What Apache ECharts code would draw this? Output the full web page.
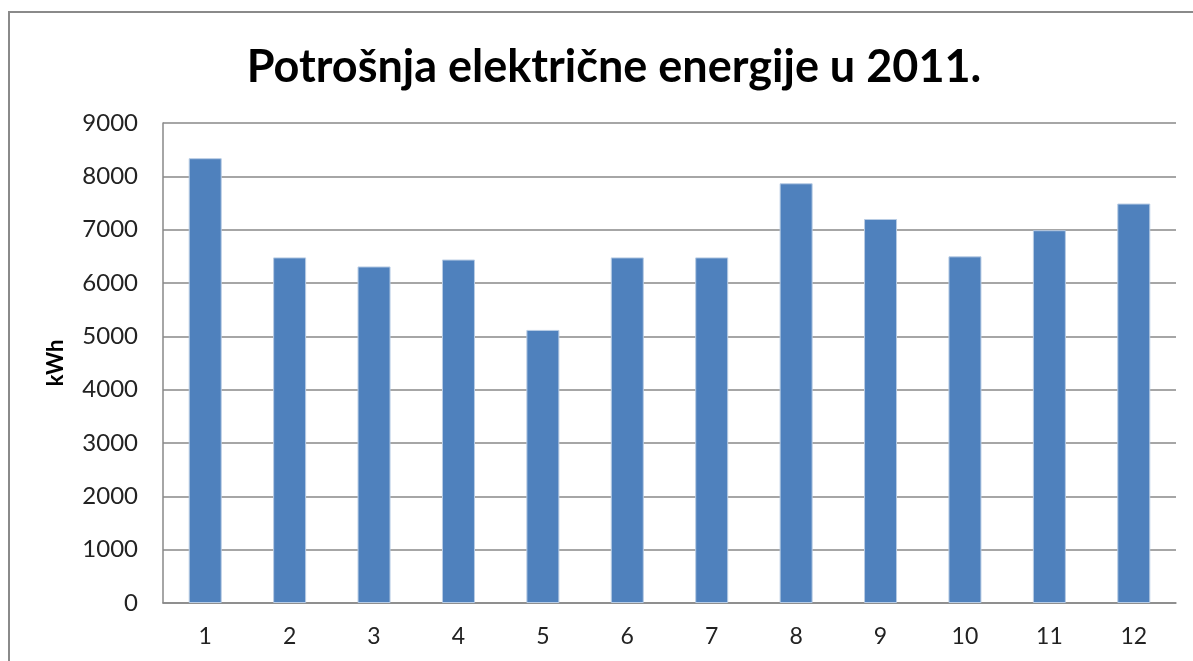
<!DOCTYPE html>
<html>
<head>
<meta charset="utf-8">
<script src="https://cdn.jsdelivr.net/npm/echarts@6/dist/echarts.min.js"></script>
<style>
html, body { margin: 0; padding: 0; background: #fff; }
#chart { width: 1193px; height: 661px; }
</style>
</head>
<body>
<div id="chart"></div>
<script>
var months = ['1', '2', '3', '4', '5', '6', '7', '8', '9', '10', '11', '12'];
var kwh = [8340, 6480, 6310, 6440, 5120, 6480, 6480, 7870, 7200, 6500, 6990, 7490];
var yTicks = [0, 1000, 2000, 3000, 4000, 5000, 6000, 7000, 8000, 9000];

var myChart = echarts.init(document.getElementById('chart'));
var option = {
    backgroundColor: '#fff',
    animation: false,
    title: {
        text: 'Potrošnja električne energije u 2011.',
        left: 609,
        textAlign: 'center',
        top: 40,
        textStyle: {
            fontFamily: 'Lato',
            fontWeight: 'bold',
            fontSize: 45,
            color: '#000'
        }
    },
    // okvir grafikona
    graphic: [
        {
            type: 'rect',
            shape: { x: 9, y: 12, width: 1200, height: 700 },
            style: { fill: 'none', stroke: '#8a8a8a', lineWidth: 2 },
            silent: true
        }
    ],
    grid: {
        left: 163,
        right: 17,
        top: 123,
        bottom: 58
    },
    xAxis: {
        type: 'category',
        data: months,
        axisLine: { lineStyle: { color: '#888', width: 1.5 } },
        axisTick: { show: false },
        axisLabel: {
            margin: 22,
            fontFamily: 'Lato',
            fontSize: 23,
            color: '#222'
        }
    },
    yAxis: {
        type: 'value',
        name: 'kWh',
        nameLocation: 'middle',
        nameGap: 96,
        nameRotate: 90,
        nameTextStyle: {
            fontFamily: 'Lato',
            fontWeight: 'bold',
            fontSize: 22,
            color: '#000'
        },
        min: yTicks[0],
        max: yTicks[yTicks.length - 1],
        interval: 1000,
        axisLine: { show: true, lineStyle: { color: '#888', width: 1.5 } },
        axisTick: { show: false },
        axisLabel: {
            margin: 25,
            fontFamily: 'Lato',
            fontSize: 24,
            color: '#222',
            formatter: function (v) { return String(v); }
        },
        splitLine: { lineStyle: { color: '#888', width: 1.5 } }
    },
    series: [
        {
            name: 'kWh',
            type: 'bar',
            data: kwh,
            barWidth: 33,
            itemStyle: {
                color: '#4F81BD',
                borderColor: '#b8cce4',
                borderWidth: 1
            }
        }
    ]
};
myChart.setOption(option);
</script>
</body>
</html>
